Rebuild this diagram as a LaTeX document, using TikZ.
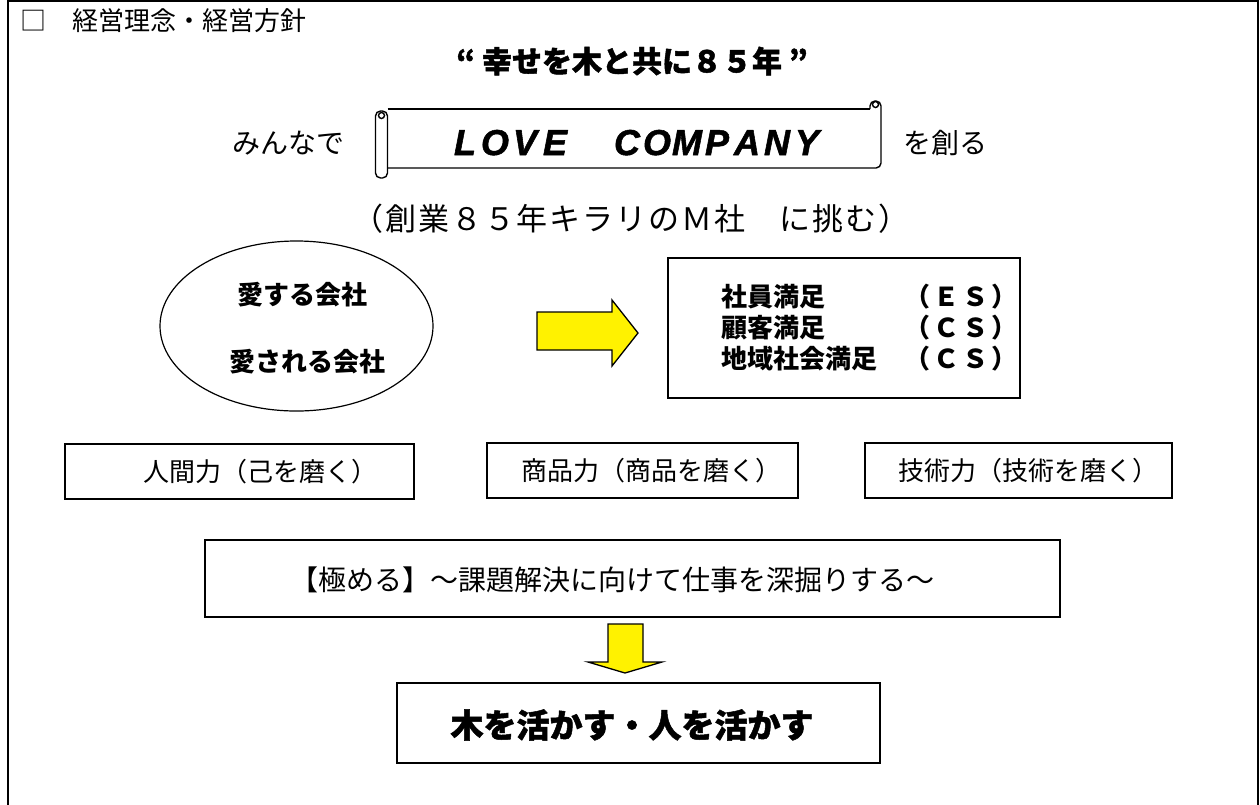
\documentclass[tikz,border=0pt]{standalone}
\usepackage{fontspec}
\usetikzlibrary{shapes.geometric}
\newfontfamily\jp{Noto Sans CJK JP}
\newfontfamily\jph{Noto Sans CJK JP}[BoldFeatures={FakeBold=1.5}]
\newfontfamily\jpsp{Noto Sans CJK JP}[LetterSpace=6]
\newfontfamily\jpes{Noto Sans CJK JP}[LetterSpace=12]
\newfontfamily\lovefont{Liberation Sans}[FakeBold=1.5]
\newcommand\lch[1]{\makebox[30pt]{#1}}
\begin{document}
\begin{tikzpicture}[x=1pt,y=-1pt,
  box/.style={draw, line width=1.3pt, inner sep=0pt},
  jt/.style={font=\jp\fontsize{26}{28}\selectfont, inner sep=0pt},
  jtb/.style={font=\jp\bfseries\fontsize{26}{28}\selectfont, inner sep=0pt},
  jes/.style={font=\jpes\bfseries\fontsize{26}{28}\selectfont, inner sep=0pt, anchor=west},
  yarrow/.style={draw, fill=yellow, line width=1.3pt, line join=miter},
  scroll/.style={draw, line width=1.4pt}]
\useasboundingbox (0,0) rectangle (1260,804);
% outer frame (bottom edge outside the picture)
\draw[line width=2pt] (8,806) -- (8,1) -- (1258,1) -- (1258,806);

% title
\node[font=\jp\fontsize{26}{28}\selectfont, anchor=west, inner sep=0pt] (title) at (20,21) {□　経営理念・経営方針};

% slogan
\node[font=\jph\bfseries\fontsize{30}{32}\selectfont, inner sep=0pt] (slogan) at (632,61) {“ 幸せを木と共に８５年 ”};

% scroll banner
\draw[scroll, rounded corners=5pt] (375.5,111) rectangle (387.5,178);
\draw[scroll] (381.5,115.5) circle (3);
\draw[scroll] (387.5,109) -- (870,109);
\draw[scroll, rounded corners=5pt] (870,109) -- (870,101) -- (881,101) -- (881,168) -- (387.5,168);
\draw[scroll] (875.5,104.5) circle (3);
\node[font=\lovefont\bfseries\itshape\fontsize{36}{37}\selectfont, anchor=base, inner sep=0pt] (love) at (636,155)
  {\lch{L}\lch{O}\lch{V}\lch{E}\hspace{42pt}\lch{C}\lch{O}\lch{M}\lch{P}\lch{A}\lch{N}\lch{Y}};
\node[font=\jp\fontsize{28}{30}\selectfont, inner sep=0pt] (minna) at (288,143) {みんなで};
\node[font=\jp\fontsize{28}{30}\selectfont, inner sep=0pt] (tsukuru) at (945,143) {を創る};

\node[font=\jpsp\fontsize{31}{33}\selectfont, inner sep=0pt] (sogyo) at (631,219) {（創業８５年キラリのＭ社　に挑む）};

% ellipse
\node[draw, ellipse, line width=1.2pt, minimum width=273pt, minimum height=170pt, inner sep=0pt] (ell) at (296.5,326) {};
\node[jtb] (ai1) at (302,295) {愛する会社};
\node[jtb] (ai2) at (307,362) {愛される会社};

% right arrow
\draw[yarrow] (537,312) -- (612,312) -- (612,300) -- (638,333) -- (612,366) -- (612,350) -- (537,350) -- cycle;

% satisfaction box
\node[box, minimum width=352pt, minimum height=140pt] (sat) at (844,328) {};
\node[jtb, anchor=west] (s1) at (721,297) {社員満足};
\node[jtb, anchor=west] (s2) at (721,328) {顧客満足};
\node[jtb, anchor=west] (s3) at (721,359) {地域社会満足};
\node[jes] (c1) at (904,297) {（ＥＳ）};
\node[jes] (c2) at (904,328) {（ＣＳ）};
\node[jes] (c3) at (904,359) {（ＣＳ）};

% three boxes
\node[box, minimum width=349pt, minimum height=55pt] (b1) at (239.5,471.5) {};
\node[box, minimum width=311pt, minimum height=55pt] (b2) at (642.5,470.5) {};
\node[box, minimum width=307pt, minimum height=55pt] (b3) at (1018.5,470.5) {};
\node[jt] (t1) at (260,472) {人間力（己を磨く）};
\node[jt] (t2) at (651,471) {商品力（商品を磨く）};
\node[jt] (t3) at (1028,471) {技術力（技術を磨く）};

% kiwameru box
\node[box, minimum width=855pt, minimum height=77pt] (kiw) at (632.5,578.5) {};
\node[font=\jp\fontsize{28}{30}\selectfont, inner sep=0pt] (kiwt) at (612,580) {【極める】～課題解決に向けて仕事を深掘りする～};

% down arrow
\draw[yarrow] (608,624) -- (643,624) -- (643,662) -- (662,662) -- (625,673) -- (588,662) -- (608,662) -- cycle;

% final box
\node[box, minimum width=483pt, minimum height=80pt] (fin) at (638.5,723) {};
\node[font=\jph\bfseries\fontsize{33}{35}\selectfont, inner sep=0pt] (fint) at (632,725) {木を活かす・人を活かす};
\end{tikzpicture}
\end{document}
